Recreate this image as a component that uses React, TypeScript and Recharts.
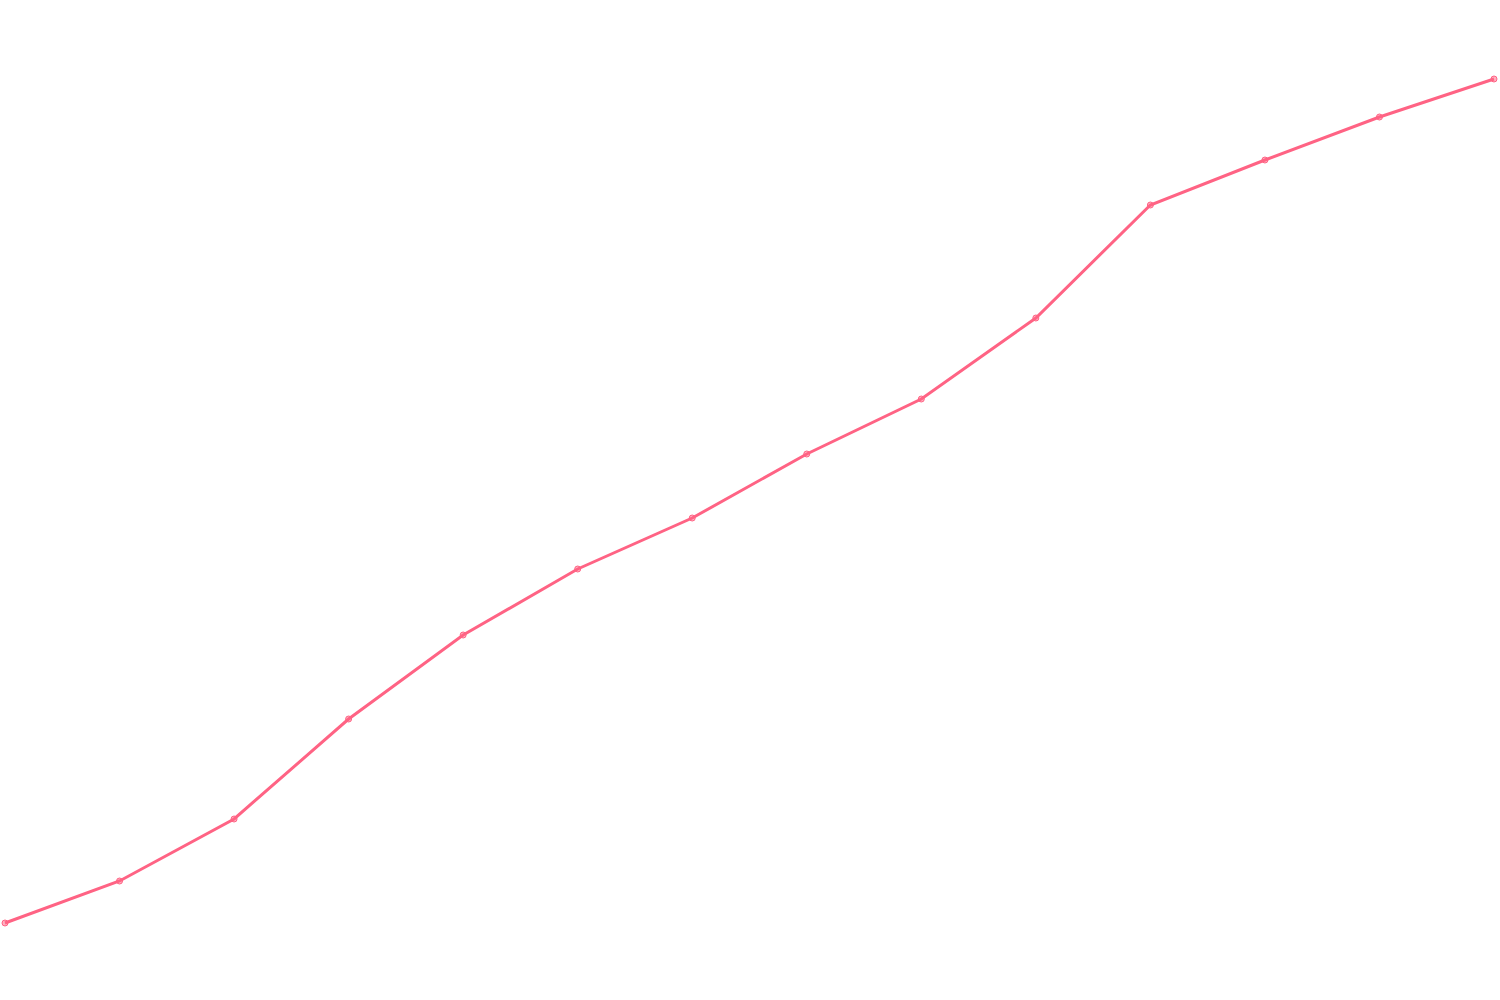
import { CartesianGrid, Line, LineChart, XAxis, YAxis } from "recharts";

// 14 points (no axes shown in the original)
const labels = [
  "1", "2", "3", "4", "5", "6", "7", "8", "9", "10", "11", "12", "13", "14",
];
const values = [
  7.7, 11.9, 18.1, 28.1, 36.5, 43.1, 48.2, 54.6, 60.1, 68.2, 79.5, 84.0, 88.3, 92.1,
];

const data = labels.map((label, i) => ({ label, value: values[i] }));

const PINK = "#ff6384";

export default function App() {
  return (
    <div style={{ position: "absolute", left: 0, top: 0, background: "#fff" }}>
      <LineChart
        width={1500}
        height={1000}
        data={data}
        margin={{ top: 0, right: 6, bottom: 0, left: 5 }}
      >
        <CartesianGrid stroke="none" />
        <XAxis dataKey="label" hide padding={{ left: 0, right: 0 }} />
        <YAxis hide domain={[0, 100]} />
        <Line
          type="linear"
          dataKey="value"
          stroke={PINK}
          strokeWidth={3}
          dot={{ r: 3, fill: "rgba(255,99,132,0.5)", stroke: PINK, strokeWidth: 1 }}
          isAnimationActive={false}
        />
      </LineChart>
    </div>
  );
}
